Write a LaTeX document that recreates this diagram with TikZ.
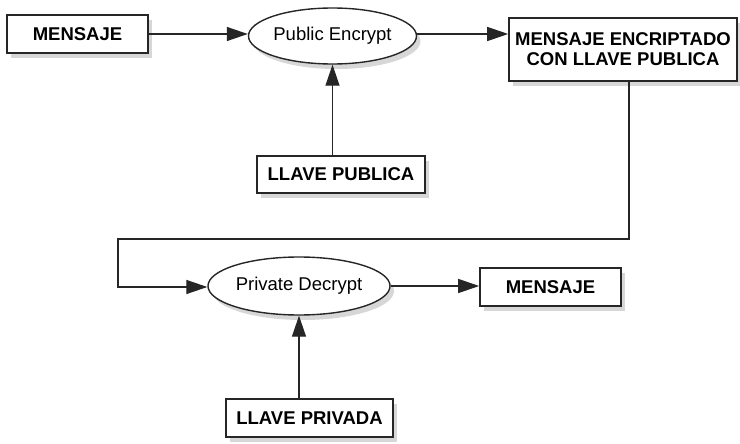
\documentclass[tikz,border=0pt]{standalone}
\usepackage{fontspec}
\setmainfont{Liberation Sans}
\usetikzlibrary{arrows.meta,shadows,shapes.geometric}
\begin{document}
\begin{tikzpicture}[x=1pt,y=-1pt,
  shd/.style={drop shadow={shadow xshift=4pt,shadow yshift=-5pt,fill=gray!70,opacity=0.45,draw=none}},
  boxnode/.style={draw=black!85,line width=1.6pt,fill=white,shd,inner sep=0pt,align=center,
    font=\fontsize{18.5}{20}\selectfont\bfseries},
  ellnode/.style={ellipse,draw=black!85,line width=1.4pt,fill=white,shd,inner sep=0pt,
    font=\fontsize{18.5}{20}\selectfont},
  conn/.style={draw=black!85,line width=1.3pt},
  arr/.style={conn,-{Triangle[length=21pt,width=14pt]}}]
\useasboundingbox (0,0) rectangle (740,444);
\node[boxnode,minimum width=141pt,minimum height=38pt] (b1) at (77.5,34) {MENSAJE};
\node[ellnode,minimum width=168pt,minimum height=56pt] (e1) at (332.5,36) {Public Encrypt};
\node[boxnode,minimum width=228pt,minimum height=63pt] (b2) at (623,49.5) {MENSAJE ENCRIPTADO\\CON LLAVE PUBLICA};
\node[boxnode,minimum width=168pt,minimum height=37pt] (lp) at (341,174.5) {LLAVE PUBLICA};
\node[ellnode,minimum width=182pt,minimum height=58pt] (e2) at (299,286) {Private Decrypt};
\node[boxnode,minimum width=141pt,minimum height=38pt] (b3) at (550.5,287) {MENSAJE};
\node[boxnode,minimum width=167pt,minimum height=38pt] (lv) at (309.5,418) {LLAVE PRIVADA};
\coordinate (c0) at (629,81);
\coordinate (c1) at (629,239);
\coordinate (c2) at (118,239);
\coordinate (c3) at (118,287);
\draw[arr] (b1.east) -- (b1.east -| e1.west);
\draw[arr] (e1.east |- 0,34) -- (b2.west |- 0,34);
\draw[arr] (e1.south |- lp.north) -- (e1.south);
\draw[arr] (c0) -- (c1) -- (c2) -- (c3) -- (c3 -| e2.west);
\draw[arr] (e2.east) -- (e2.east -| b3.west);
\draw[arr] (e2.south |- lv.north) -- (e2.south);
\end{tikzpicture}
\end{document}
